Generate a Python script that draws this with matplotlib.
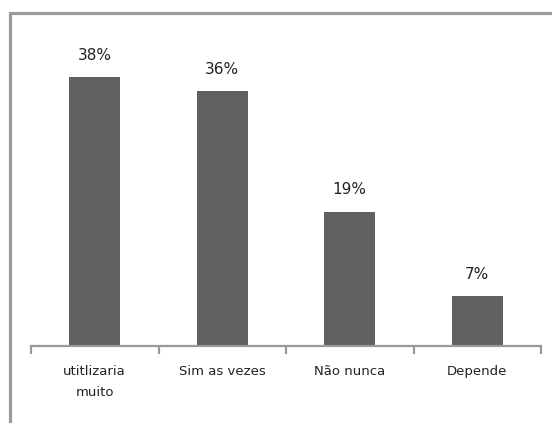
import numpy as np
import matplotlib.pyplot as plt
from matplotlib.patches import Rectangle

categories = ['utitlizaria\nmuito', 'Sim as vezes', 'Não nunca', 'Depende']
values = [38, 36, 19, 7]

fig = plt.figure(figsize=(5.52, 4.23), dpi=100)
W, H = 552, 423

# moldura cinza externa
fig.patches.append(Rectangle((9.5 / W, -0.1), 1.2, (H - 13) / H + 0.1,
                             transform=fig.transFigure, fill=False,
                             edgecolor='#9a9a9a', linewidth=2.3))

ax = fig.add_axes([31 / W, (H - 346) / H, 510 / W, 283 / H])
x = np.arange(len(values))
ax.bar(x, values, width=0.4, color='#606060')
ax.set_xlim(-0.5, len(values) - 0.5)
ax.set_ylim(0, 40)

for xi, v in zip(x, values):
    ax.text(xi, v + 2.0, f'{v}%', ha='center', va='bottom', fontsize=11,
            color='#222222')

for s in ['top', 'right', 'left']:
    ax.spines[s].set_visible(False)
ax.spines['bottom'].set_color('#999999')
ax.spines['bottom'].set_linewidth(1.6)

ax.set_yticks([])
ax.set_xticks(x)
ax.set_xticklabels(categories, fontsize=9.5, color='#222222', linespacing=1.75)
ax.tick_params(axis='x', which='major', length=0, pad=14)
ax.set_xticks(np.arange(-0.5, len(values)), minor=True)
ax.tick_params(axis='x', which='minor', length=6, width=1.6, color='#999999')

fig.savefig('out.png', dpi=100)
